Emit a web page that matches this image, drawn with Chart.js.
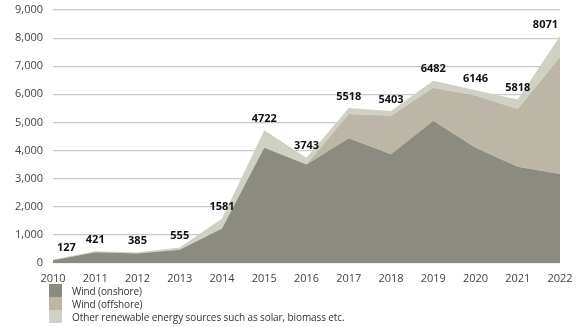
<!DOCTYPE html>
<html>
<head>
<meta charset="utf-8">
<script src="https://cdn.jsdelivr.net/npm/chart.js@4"></script>
<style>
  html, body { margin: 0; padding: 0; background: #fff; }
  #wrap { position: relative; width: 580px; height: 327px; }
  #chartBox { position: absolute; left: 0; top: 0; width: 580px; height: 285px; }
  #legend { position: absolute; left: 49px; top: 284px; font-family: "Open Sans", sans-serif; font-size: 10px; color: #333; letter-spacing: -0.1px; }
  .item { display: flex; align-items: center; height: 13px; }
  .box { width: 13px; height: 13px; margin-right: 10px; }
</style>
</head>
<body>
<div id="wrap">
  <div id="chartBox"><canvas id="areaChart"></canvas></div>
  <div id="legend"></div>
</div>
<script>
const years = ["2010","2011","2012","2013","2014","2015","2016","2017","2018","2019","2020","2021","2022"];
const onshore  = [100, 380, 340, 470, 1230, 4100, 3505, 4440, 3865, 5060, 4100, 3420, 3170];
const offshore = [0, 0, 0, 0, 0, 0, 0, 860, 1375, 1175, 1860, 2060, 4160];
const other    = [27, 41, 45, 85, 351, 622, 238, 218, 163, 247, 186, 338, 741];
const totals   = [127, 421, 385, 555, 1581, 4722, 3743, 5518, 5403, 6482, 6146, 5818, 8071];

const seriesNames = ["Wind (onshore)", "Wind (offshore)", "Other renewable energy sources such as solar, biomass etc."];
const seriesColors = ["#8b8b82", "#bbb6a6", "#d0d1c5"];

// totals written above the top of the stack
const totalLabels = {
  id: "totalLabels",
  afterDatasetsDraw(chart) {
    const { ctx, chartArea } = chart;
    const topMeta = chart.getDatasetMeta(2);
    ctx.save();
    ctx.font = "bold 11px 'Open Sans', sans-serif";
    ctx.fillStyle = "#111";
    ctx.textAlign = "center";
    ctx.textBaseline = "bottom";
    topMeta.data.forEach((pt, i) => {
      const txt = String(totals[i]);
      const w = ctx.measureText(txt).width;
      let x = pt.x;
      x = Math.max(chartArea.left + w / 2 + 4, Math.min(chartArea.right - w / 2 - 2, x));
      ctx.fillText(txt, x, pt.y - 6);
    });
    ctx.restore();
  }
};

const ctx = document.getElementById("areaChart").getContext("2d");
new Chart(ctx, {
  type: "line",
  data: {
    labels: years,
    datasets: [
      { label: seriesNames[0], data: onshore, backgroundColor: seriesColors[0], fill: "origin" },
      { label: seriesNames[1], data: offshore, backgroundColor: seriesColors[1], fill: "-1" },
      { label: seriesNames[2], data: other, backgroundColor: seriesColors[2], fill: "-1" }
    ].map(d => Object.assign(d, { borderWidth: 0, pointRadius: 0, tension: 0 }))
  },
  options: {
    responsive: true,
    maintainAspectRatio: false,
    animation: false,
    layout: { padding: { top: 10, right: 20, left: 0, bottom: 0 } },
    scales: {
      x: {
        offset: false,
        grid: { display: false },
        border: { display: false },
        ticks: { color: "#444", font: { family: "'Open Sans', sans-serif", size: 11 }, maxRotation: 0, autoSkip: false, padding: 1 },
        afterFit: s => { s.height = 22; }
      },
      y: {
        stacked: true,
        min: 0,
        max: 9000,
        grid: { color: "#c8c8c8", lineWidth: 1.2, drawTicks: false },
        border: { display: false },
        ticks: {
          stepSize: 1000,
          color: "#444",
          padding: 10,
          font: { family: "'Open Sans', sans-serif", size: 11 },
          callback: v => v.toLocaleString("en-US")
        },
        afterFit: s => { s.width = 53; s.paddingTop = 0; s.paddingBottom = 0; }
      }
    },
    plugins: {
      legend: { display: false },
      tooltip: { enabled: false }
    }
  },
  plugins: [totalLabels]
});

const legend = document.getElementById("legend");
seriesNames.forEach((name, i) => {
  const row = document.createElement("div");
  row.className = "item";
  row.innerHTML = '<span class="box" style="background:' + seriesColors[i] + '"></span><span>' + name + '</span>';
  legend.appendChild(row);
});
</script>
</body>
</html>
